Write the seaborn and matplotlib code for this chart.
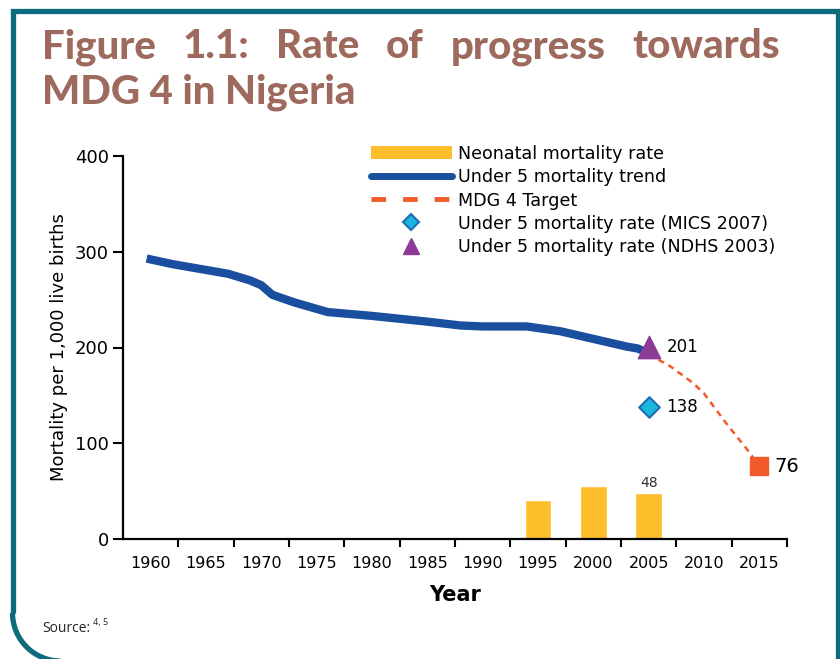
import numpy as np
import matplotlib
matplotlib.use("Agg")
import matplotlib.pyplot as plt
from matplotlib.lines import Line2D
from matplotlib.patches import Patch, Arc
import seaborn as sns

# Under 5 mortality trend (per 1,000 live births)
trend_years = [1960, 1962, 1965, 1967, 1969, 1970, 1971, 1973, 1976, 1980,
               1985, 1988, 1990, 1994, 1997, 2000, 2003, 2004, 2005]
trend_values = [292, 287, 281, 277, 270, 265, 255, 247, 237, 233,
                227, 223, 222, 222, 217, 209, 201, 199, 194]

# MDG 4 target path
target_years = [2005, 2007, 2009, 2010, 2012, 2014, 2015]
target_values = [193, 180, 163, 152, 121, 92, 76]

# Neonatal mortality rate bars
nmr_years = [1995, 2000, 2005]
nmr_values = [41, 55, 48]

# survey points
mics_year, mics_value = 2005, 138
ndhs_year, ndhs_value = 2005, 201
target_end_year, target_end_value = 2015, 76

tick_years = [1960, 1965, 1970, 1975, 1980, 1985, 1990, 1995, 2000, 2005, 2010, 2015]

BLUE = "#1A4E9F"
ORANGE = "#F15A2B"
GOLD = "#FDBE2C"
PURPLE = "#8E3A97"
CYAN = "#19B6DE"
TEAL = "#0D6B7D"
TITLE_C = "#9D6A5D"

sns.set_style("ticks")
plt.rcParams["font.family"] = ["DejaVu Sans"]
for k in ["text.color", "axes.labelcolor", "xtick.color", "ytick.color"]:
    plt.rcParams[k] = "black"

fig = plt.figure(figsize=(8.4, 6.59), dpi=100)

# background frame / layout axes in pixel coordinates
bg = fig.add_axes([0, 0, 1, 1], zorder=-1)
bg.set_xlim(0, 840)
bg.set_ylim(659, 0)
bg.axis("off")
lw_frame = 3.8
bg.plot([12.5, 838], [10.5, 10.5], color=TEAL, lw=lw_frame, solid_capstyle="projecting")
bg.plot([838, 838], [10.5, 670], color=TEAL, lw=lw_frame)
bg.plot([12.5, 12.5], [10.5, 613], color=TEAL, lw=lw_frame, solid_capstyle="butt")
bg.add_patch(Arc((60.5, 613), 96, 96, theta1=90, theta2=180, color=TEAL, lw=lw_frame))

# title, first line justified between x=42 and x=780
title_kw = dict(fontsize=29, fontweight=900, color=TITLE_C, family=["Lato", "DejaVu Sans"],
                va="center", ha="left")
words = ["Figure", "1.1:", "Rate", "of", "progress", "towards"]
renderer = fig.canvas.get_renderer()
texts = [bg.text(0, 47, w, **title_kw) for w in words]
widths = [t.get_window_extent(renderer).width for t in texts]
gap = (780 - 42 - sum(widths)) / (len(words) - 1)
x = 42
for t, w in zip(texts, widths):
    t.set_x(x)
    x += w + gap
bg.text(42, 92, "MDG 4 in Nigeria", **title_kw)

src = bg.text(42, 628, "Source:", fontsize=10, family=["Open Sans", "DejaVu Sans"],
              va="center", color="#222222")
sw = src.get_window_extent(renderer).width
bg.text(42 + sw + 3, 622, "4, 5", fontsize=6.5, family=["Open Sans", "DejaVu Sans"],
        va="center", color="#222222")

# main chart
ax = fig.add_axes([123 / 840, 1 - 539 / 659, 664 / 840, 383 / 659])

sns.barplot(x=nmr_years, y=nmr_values, native_scale=True, width=0.48,
            color=GOLD, saturation=1, ax=ax, zorder=2)
sns.lineplot(x=trend_years, y=trend_values, color=BLUE, lw=6, ax=ax, zorder=3,
             solid_capstyle="projecting")
ax.plot(target_years, target_values, color=ORANGE, lw=1.8, ls=(0, (2.5, 2)), zorder=3)
ax.scatter([target_end_year], [target_end_value], marker="s", s=150, color=ORANGE, zorder=4)
ax.scatter([mics_year], [mics_value], marker="D", s=110, color=CYAN,
           edgecolor="#1F6DB4", linewidth=1.5, zorder=4)
ax.scatter([ndhs_year], [ndhs_value], marker="^", s=260, color=PURPLE, zorder=4)

ax.text(ndhs_year + 1.6, ndhs_value, str(ndhs_value), fontsize=12, va="center")
ax.text(mics_year + 1.6, mics_value, str(mics_value), fontsize=12, va="center")
ax.text(target_end_year + 1.4, target_end_value, str(target_end_value), fontsize=14, va="center")
ax.text(nmr_years[-1], nmr_values[-1] + 3, str(nmr_values[-1]), fontsize=10,
        ha="center", va="bottom", color="#333333")

ax.set_xlim(1957.5, 2017.5)
ax.set_ylim(0, 400)
ax.set_yticks([0, 100, 200, 300, 400])
ax.set_xticks(tick_years)
ax.set_xticklabels([str(y) for y in tick_years])
ax.set_xticks([y + 2.5 for y in tick_years], minor=True)
ax.tick_params(axis="x", which="major", length=0, labelsize=11.5, pad=12)
ax.tick_params(axis="x", which="minor", length=6, width=1.5, direction="out")
ax.tick_params(axis="y", length=7, width=1.5, labelsize=13, pad=3)
for s in ["top", "right"]:
    ax.spines[s].set_visible(False)
for s in ["left", "bottom"]:
    ax.spines[s].set_linewidth(1.6)
    ax.spines[s].set_color("black")
ax.set_xlabel("Year", fontsize=15, fontweight="bold", labelpad=10)
ax.set_ylabel("Mortality per 1,000 live births", fontsize=13, labelpad=5)
ax.patch.set_alpha(0)

handles = [
    Patch(facecolor=GOLD, edgecolor="none"),
    Line2D([], [], color=BLUE, lw=5),
    Line2D([], [], color=ORANGE, lw=3.5, ls=(0, (3, 3.5))),
    Line2D([], [], color=CYAN, marker="D", markersize=8, markeredgecolor="#1F6DB4",
           markeredgewidth=1.5, ls="none"),
    Line2D([], [], color=PURPLE, marker="^", markersize=11, ls="none"),
]
labels = ["Neonatal mortality rate", "Under 5 mortality trend", "MDG 4 Target",
          "Under 5 mortality rate (MICS 2007)", "Under 5 mortality rate (NDHS 2003)"]
fig.legend(handles, labels, loc="upper left", bbox_to_anchor=(371 / 840, 1 - 145 / 659),
           frameon=False, fontsize=12.6, handlelength=4.6, handleheight=0.75, handletextpad=0.35,
           labelspacing=0.3, borderpad=0, borderaxespad=0, numpoints=1)

fig.savefig("out.png", dpi=100)
